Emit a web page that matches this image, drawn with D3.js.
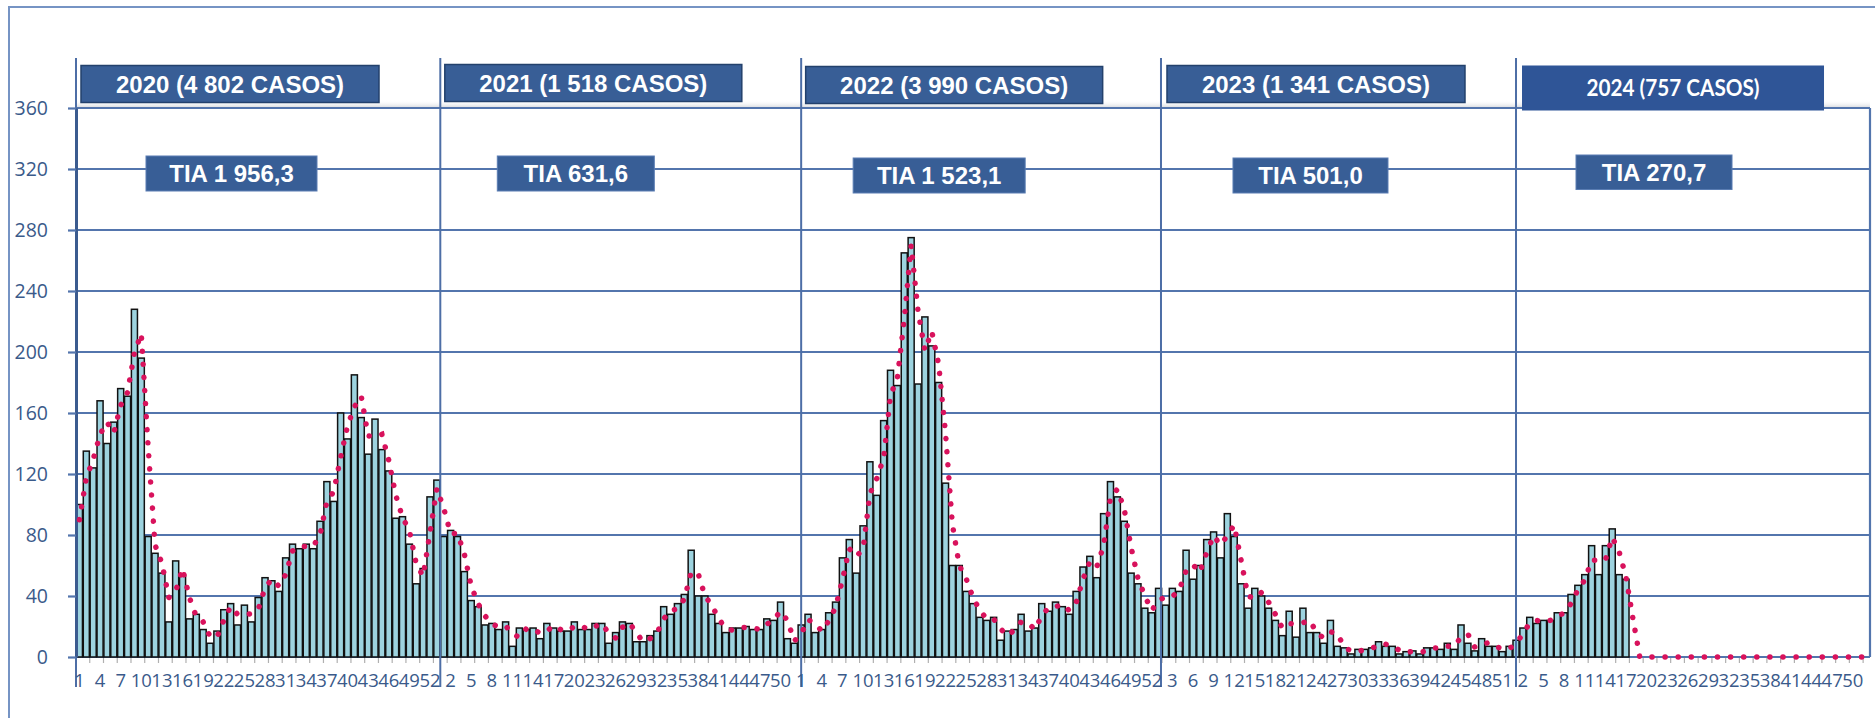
<!DOCTYPE html>
<html><head><meta charset="utf-8">
<script src="https://cdn.jsdelivr.net/npm/d3@7"></script>
<style>html,body{margin:0;padding:0;background:#fff;} svg{display:block}</style>
</head><body>
<svg id="chart" width="1875" height="718"></svg>
<script>
// ---------------- DATA ----------------
const years = ["2020", "2021", "2022", "2023", "2024"];
const headerLabels = ["2020 (4 802 CASOS)", "2021 (1 518 CASOS)", "2022 (3 990 CASOS)", "2023 (1 341 CASOS)", "2024 (757 CASOS)"];
const tiaLabels = ["TIA 1 956,3", "TIA 631,6", "TIA 1 523,1", "TIA 501,0", "TIA 270,7"];
const yTicks = [0, 40, 80, 120, 160, 200, 240, 280, 320, 360];

// weekly cases (bars)
const cases2020 = [100,135,124,168,140,154,176,171,228,196, 79,68,55,23,63,53,25,28,18,9, 17,31,35,21,34,23,39,52,50,43, 65,74,71,74,71,89,115,102,160,143, 185,157,133,156,136,122,91,92,74,48, 58,105,116];
const cases2021 = [79,83,79,56,37,33,21,22,18,23, 7,19,18,19,12,22,19,17,17,23, 18,18,22,22,9,16,23,22,10,10, 14,17,33,28,35,41,70,40,40,28, 22,16,19,19,20,18,18,25,24,36, 12,9];
const cases2022 = [21,28,16,18,29,36,65,77,55,86, 128,106,155,188,178,265,275,179,223,204, 180,114,60,60,43,35,26,24,26,11, 17,18,28,17,19,35,30,36,33,28, 43,59,66,52,94,115,105,89,55,48, 32,29];
const cases2023 = [45,34,45,43,70,51,60,77,82,65, 94,79,48,32,45,40,32,24,14,30, 13,32,16,16,9,24,7,6,2,5, 5,6,10,7,7,2,3.5,4,2,6, 6,5,9,5,21,9,4,12,7,7, 3.5,7];
const cases2024 = [11,19,26,22,24,24,29,29,41,47, 54,73,54,73,84,54,51,0,0,0, 0,0,0,0,0,0,0,0,0,0, 0,0,0,0,0,0,0,0,0,0, 0,0,0,0,0,0,0,0,0,0, 0,0];

// moving average (dotted line)
const ma2020 = [90,117.5,129.5,146,154,147,165,173.5,199.5,212, 137.5,73.5,61.5,39,43,58,39,26.5,23,13.5, 13,24,33,28,27.5,28.5,31,45.5,51,46.5, 54,69.5,72.5,72.5,72.5,80,102,108.5,131,151.5, 164,171,145,144.5,146,129,106.5,91.5,83,61, 53,81.5,110.5];
const ma2021 = [97.5,81,81,67.5,46.5,35,27,21.5,20,20.5, 15,13,18.5,18.5,15.5,17,20.5,18,17,20, 20.5,18,20,22,15.5,12.5,19.5,22.5,16,10, 12,15.5,25,30.5,31.5,38,55.5,55,40,34, 25,19,17.5,19,19.5,19,18,21.5,24.5,30, 24,10.5];
const ma2022 = [15,24.5,22,17,23.5,32.5,50.5,71,66,70.5, 107,117,130.5,171.5,183,221.5,270,227,201,213.5, 192,147,87,60,51.5,39,30.5,25,25,18.5, 14,17.5,23,22.5,18,27,32.5,33,34.5,30.5, 35.5,51,62.5,59,73,104.5,110,97,72,51.5, 40,30.5];
const ma2023 = [37,39.5,39.5,44,56.5,60.5,55.5,68.5,79.5,73.5, 79.5,86.5,63.5,40,38.5,42.5,36,28,19,22, 21.5,22.5,24,16,12.5,16.5,15.5,6.5,4,3.5, 5,5.5,8,8.5,7,4.5,2.8,3.8,3,4, 6,5.5,7,7,13,15,6.5,8,9.5,7, 5.3,5.3];
const ma2024 = [9,15,22.5,24,23,24,26.5,29,35,44, 50.5,63.5,63.5,63.5,78.5,69,52.5,25.5,0,0, 0,0,0,0,0,0,0,0,0,0, 0,0,0,0,0,0,0,0,0,0, 0,0,0,0,0,0,0,0,0,0, 0,0];

const casesByYear = [cases2020, cases2021, cases2022, cases2023, cases2024];
const maByYear = [ma2020, ma2021, ma2022, ma2023, ma2024];

// ---------------- LAYOUT ----------------
const W = 1875, H = 718;
const plot = {left: 76, right: 1870, top: 108, bottom: 657};
const sepShift = [0, 0, 0.5, 0.85, 0.5];          // separator offset, in weeks, from the year's first band
const headerBox = [                                 // [dx from separator, width, top, height]
  [5, 298, 65.5, 37], [4.5, 297, 64.5, 37], [4.5, 297, 66.5, 37], [6, 298, 65.5, 37], [6, 302, 65.5, 45]];
const tiaBox = [                                    // [dx from separator, width, top, height]
  [70, 171, 156, 35], [57, 157, 156, 35], [52, 172, 158, 35], [72, 155, 158, 35], [60, 156, 155, 34.5]];

const rows = [];
years.forEach((yr, yi) => {
  casesByYear[yi].forEach((v, wi) => {
    rows.push({key: yr + "-" + (wi + 1), year: yr, yi, week: wi + 1, cases: v, ma: maByYear[yi][wi], idx: rows.length});
  });
});

const svg = d3.select("#chart");
svg.append("rect").attr("width", W).attr("height", H).attr("fill", "#fff");

const x = d3.scaleBand().domain(rows.map(d => d.key)).range([plot.left, plot.right])
  .paddingInner(0.12).paddingOuter(0.06);
const y = d3.scaleLinear().domain([0, 360]).range([plot.bottom, plot.top]);
const step = x.step();
const cx = d => x(d.key) + x.bandwidth() / 2;
const boundary = key => x(key) - step * 0.06;

// outer frame
svg.append("path").attr("d", `M9,${H}V7H${W}`).attr("fill", "none")
  .attr("stroke", "#7694c4").attr("stroke-width", 2);

// shadow above plot
const defs = svg.append("defs");
const grad = defs.append("linearGradient").attr("id", "shadow").attr("x1", 0).attr("x2", 0).attr("y1", 0).attr("y2", 1);
grad.append("stop").attr("offset", "0%").attr("stop-color", "#fff").attr("stop-opacity", 0);
grad.append("stop").attr("offset", "100%").attr("stop-color", "#c8ccd2").attr("stop-opacity", 0.8);
svg.append("rect").attr("x", plot.left).attr("y", plot.top - 8).attr("width", plot.right - plot.left)
  .attr("height", 8).attr("fill", "url(#shadow)");

// gridlines
const gridColor = "#5375ad";
svg.append("g").selectAll("line").data(yTicks).join("line")
  .attr("x1", plot.left).attr("x2", plot.right)
  .attr("y1", d => y(d)).attr("y2", d => y(d))
  .attr("stroke", gridColor).attr("stroke-width", 2.2);
svg.append("line").attr("x1", plot.right).attr("x2", plot.right)
  .attr("y1", plot.top).attr("y2", plot.bottom).attr("stroke", gridColor).attr("stroke-width", 2.2);

// x tick marks (every 2 weeks)
svg.append("g").selectAll("line").data(rows.filter(d => d.idx % 2 === 0)).join("line")
  .attr("x1", d => boundary(d.key)).attr("x2", d => boundary(d.key))
  .attr("y1", plot.bottom + 1).attr("y2", plot.bottom + 6)
  .attr("stroke", "#b0b0b0").attr("stroke-width", 1.2);

// bars
svg.append("g").selectAll("rect").data(rows.filter(d => d.cases > 0)).join("rect")
  .attr("x", d => x(d.key)).attr("width", x.bandwidth())
  .attr("y", d => y(d.cases)).attr("height", d => y(0) - y(d.cases))
  .attr("fill", "#9dd3df").attr("stroke", "#111").attr("stroke-width", 1.5);

// year separators
const sepX = years.map((yr, yi) => boundary(yr + "-1") + step * sepShift[yi]);
svg.append("g").selectAll("line").data(sepX).join("line")
  .attr("x1", d => d).attr("x2", d => d).attr("y1", 58).attr("y2", 687)
  .attr("stroke", "#4d6ea6").attr("stroke-width", 2);

// y axis
const yAxis = svg.append("g").attr("transform", `translate(${plot.left},0)`)
  .call(d3.axisLeft(y).tickValues(yTicks).tickSize(8).tickSizeOuter(0).tickPadding(20));
yAxis.select(".domain").attr("stroke", "#3b5b8f").attr("stroke-width", 3);
yAxis.selectAll(".tick line").attr("stroke", gridColor).attr("stroke-width", 2.2);
yAxis.selectAll(".tick text").attr("font-family", "'Open Sans', sans-serif").attr("font-size", 19.5)
  .attr("fill", "#3a5a8a");

// x axis labels
const xAxis = svg.append("g").attr("transform", `translate(0,${plot.bottom})`)
  .call(d3.axisBottom(x).tickValues(rows.filter(d => d.idx % 3 === 0).map(d => d.key))
    .tickFormat(k => k.split("-")[1]).tickSize(0).tickPadding(17));
xAxis.select(".domain").remove();
xAxis.selectAll(".tick text").attr("font-family", "'Open Sans', sans-serif").attr("font-size", 18.5)
  .attr("fill", "#3a5a8a");

// moving average dotted line
const line = d3.line().x(cx).y(d => y(d.ma));
svg.append("path").datum(rows).attr("d", line).attr("fill", "none")
  .attr("stroke", "#d8125c").attr("stroke-width", 5.5).attr("stroke-linecap", "round")
  .attr("stroke-dasharray", "0.1 13");

// header boxes
const hb = svg.append("g");
years.forEach((yr, yi) => {
  const [dx, w, top, h] = headerBox[yi];
  const bx = sepX[yi] + dx;
  const last = yi === 4;
  hb.append("rect").attr("x", bx).attr("y", top).attr("width", w).attr("height", h)
    .attr("fill", last ? "#2f5597" : "#385e96")
    .attr("stroke", last ? "none" : "#23416c").attr("stroke-width", 1.5);
  const t = hb.append("text").attr("x", bx + w / 2).attr("y", top + h / 2).attr("dy", "0.36em")
    .attr("text-anchor", "middle").attr("fill", "#fff").attr("font-weight", "bold")
    .text(headerLabels[yi]);
  if (last) {
    t.attr("font-family", "'Liberation Sans Narrow', 'Lato', sans-serif").attr("font-size", 23)
      .attr("textLength", 173).attr("lengthAdjust", "spacingAndGlyphs");
  } else {
    t.attr("font-family", "'Liberation Sans', Arial, sans-serif").attr("font-size", 24);
  }
});

// TIA boxes
const tb = svg.append("g");
years.forEach((yr, yi) => {
  const [dx, w, top, h] = tiaBox[yi];
  const bx = sepX[yi] + dx;
  tb.append("rect").attr("x", bx).attr("y", top).attr("width", w).attr("height", h)
    .attr("fill", "#385e96").attr("stroke", "#5a7db3").attr("stroke-width", 1);
  tb.append("text").attr("x", bx + w / 2).attr("y", top + h / 2).attr("dy", "0.36em")
    .attr("text-anchor", "middle").attr("fill", "#fff").attr("font-weight", "bold")
    .attr("font-family", "'Liberation Sans', Arial, sans-serif").attr("font-size", 24)
    .text(tiaLabels[yi]);
});
</script>
</body></html>
